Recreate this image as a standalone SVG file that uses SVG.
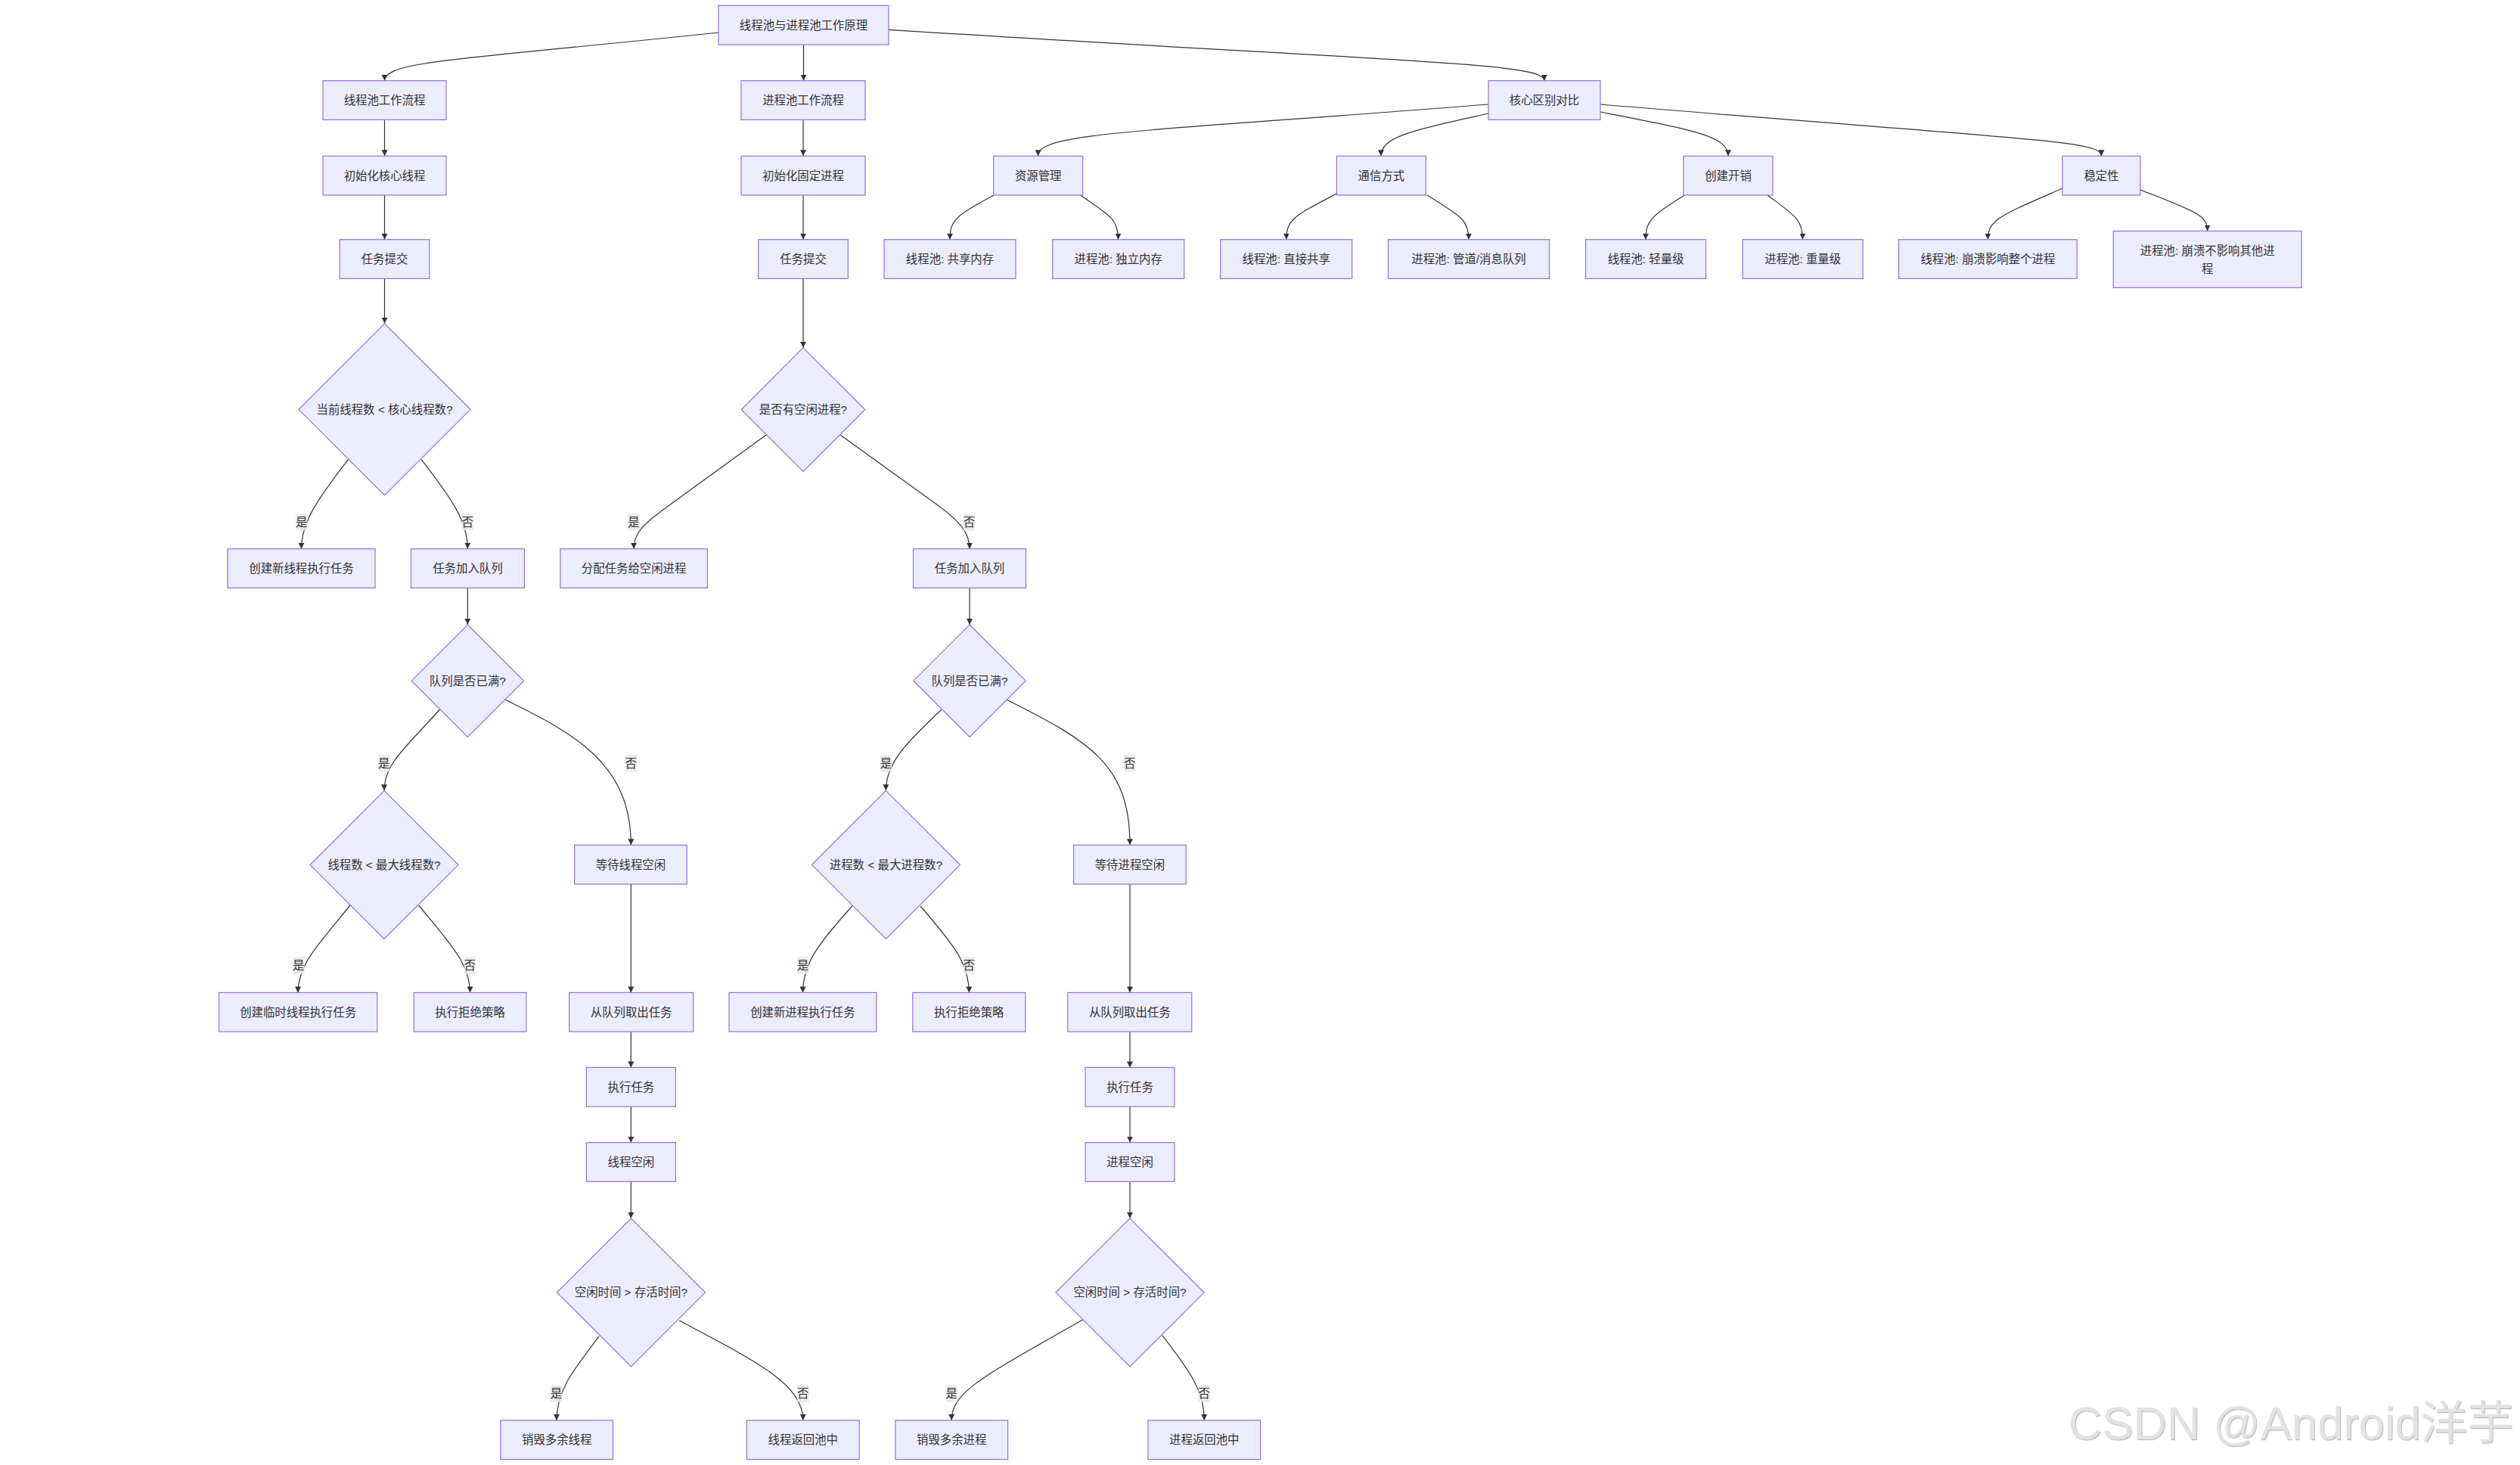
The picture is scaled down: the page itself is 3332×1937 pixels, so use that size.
<svg xmlns="http://www.w3.org/2000/svg" width="3332" height="1937" viewBox="0 0 3332 1937">
<defs>
<style>
.node rect, .node polygon { fill:#ECECFF; stroke:#9370DB; stroke-width:1.2; }
.node text, .elabel text { font-family:"Liberation Sans","Noto Sans CJK SC",sans-serif; font-size:15.4px; fill:#333333; text-anchor:middle; dominant-baseline:central; }
.edge { fill:none; stroke:#333333; stroke-width:1.2; marker-end:url(#arrow); }
.elabel rect { fill:#e8e8e8; opacity:0.85; }
.wm { font-family:"Liberation Sans","Noto Sans CJK SC",sans-serif; font-size:61.5px; fill:#e2e2e2; filter:url(#wmshadow); }
</style>
<marker id="arrow" viewBox="0 0 10 10" refX="10" refY="5" markerWidth="8" markerHeight="8" markerUnits="userSpaceOnUse" orient="auto">
<path d="M0,0 L10,5 L0,10 z" fill="#333333"/>
</marker>
<filter id="wmshadow" x="-5%" y="-20%" width="110%" height="140%">
<feDropShadow dx="1" dy="1.2" stdDeviation="0.6" flood-color="#a8a8a8" flood-opacity="0.8"/>
</filter>
</defs>
<rect width="3332" height="1937" fill="#ffffff"/>

<g id="connectors">
<path class="edge" d="M950,43 C620,78 508.5,80 508.5,106.7"/>
<path class="edge" d="M1062.5,59 L1062.5,106.7"/>
<path class="edge" d="M1175,39.3 C1850,82 2042,82 2042,106.7"/>
<path class="edge" d="M508.5,158.4 L508.5,206.3"/>
<path class="edge" d="M508.5,258 L508.5,316.7"/>
<path class="edge" d="M508.5,368.4 L508.5,427.8"/>
<path class="edge" d="M1062,158.4 L1062,206.3"/>
<path class="edge" d="M1062,258 L1062,316.7"/>
<path class="edge" d="M1062,368.4 L1062,459.7"/>
<path class="edge" d="M1968,138 C1500,175 1372.6,175 1372.6,206.3"/>
<path class="edge" d="M1968,150 C1870,172 1826,180 1826,206.3"/>
<path class="edge" d="M2116,148 C2240,172 2285,180 2285,206.3"/>
<path class="edge" d="M2116,138 C2680,185 2778.5,185 2778.5,206.3"/>
<path class="edge" d="M1314,258 C1265,285 1256,290 1256,316.7"/>
<path class="edge" d="M1428.5,258 C1468,285 1478.5,290 1478.5,316.7"/>
<path class="edge" d="M1767.4,256 C1712,285 1700.8,290 1700.8,316.7"/>
<path class="edge" d="M1887,258 C1930,285 1942,290 1942,316.7"/>
<path class="edge" d="M2227.5,258 C2185,285 2176,290 2176,316.7"/>
<path class="edge" d="M2337,258 C2373,285 2383.5,290 2383.5,316.7"/>
<path class="edge" d="M2727,249 C2645,285 2628.4,290 2628.4,316.7"/>
<path class="edge" d="M2830,251 C2905,280 2918.7,285 2918.7,305.5"/>
<path class="edge" d="M460.5,607.3 C420,660 398.5,690 398.5,725.7"/>
<path class="edge" d="M557,607.3 C598,660 618.3,690 618.3,725.7"/>
<path class="edge" d="M1013,575 L885,668 C850,693 838,705 838,725.7"/>
<path class="edge" d="M1111,575 L1240,668 C1270,690 1282,705 1282,725.7"/>
<path class="edge" d="M618.3,777.4 L618.3,826"/>
<path class="edge" d="M1282,777.4 L1282,826"/>
<path class="edge" d="M581.6,938 C535,990 508,1010 508,1045.3"/>
<path class="edge" d="M667.7,925 C760,970 834.3,1010 834.3,1117.3"/>
<path class="edge" d="M1244.6,938.5 C1195,985 1171.4,1010 1171.4,1045.3"/>
<path class="edge" d="M1331.7,925.5 C1440,980 1494,1010 1494,1117.3"/>
<path class="edge" d="M463,1197 C420,1250 394,1275 394,1312.4"/>
<path class="edge" d="M553.6,1197 C597,1250 621.5,1275 621.5,1312.4"/>
<path class="edge" d="M1126.8,1198 C1080,1250 1061.5,1275 1061.5,1312.4"/>
<path class="edge" d="M1217,1198 C1262,1250 1281.3,1275 1281.3,1312.4"/>
<path class="edge" d="M834.3,1169 L834.3,1312.4"/>
<path class="edge" d="M1494,1169 L1494,1312.4"/>
<path class="edge" d="M834.3,1364.1 L834.3,1411.4"/>
<path class="edge" d="M834.3,1463.1 L834.3,1510.6"/>
<path class="edge" d="M834.3,1562.3 L834.3,1610.8"/>
<path class="edge" d="M1494,1364.1 L1494,1411.4"/>
<path class="edge" d="M1494,1463.1 L1494,1510.6"/>
<path class="edge" d="M1494,1562.3 L1494,1610.8"/>
<path class="edge" d="M792.3,1766.7 C755,1815 736,1840 736,1877.9"/>
<path class="edge" d="M898.2,1746 C1000,1800 1061.8,1830 1061.8,1877.9"/>
<path class="edge" d="M1431.6,1745 C1300,1820 1258.2,1840 1258.2,1877.9"/>
<path class="edge" d="M1536.8,1765.6 C1575,1815 1592.3,1840 1592.3,1877.9"/>
</g>

<g id="edge-labels">
<g class="elabel"><rect x="391" y="679" width="15.4" height="22.4"/><text x="398.7" y="690.2">是</text></g>
<g class="elabel"><rect x="610.6" y="679" width="15.4" height="22.4"/><text x="618.3" y="690.2">否</text></g>
<g class="elabel"><rect x="830.3" y="679" width="15.4" height="22.4"/><text x="838" y="690.2">是</text></g>
<g class="elabel"><rect x="1273.8" y="679" width="15.4" height="22.4"/><text x="1281.5" y="690.2">否</text></g>
<g class="elabel"><rect x="500" y="998" width="15.4" height="22.4"/><text x="507.7" y="1009.2">是</text></g>
<g class="elabel"><rect x="826.5" y="998" width="15.4" height="22.4"/><text x="834.2" y="1009.2">否</text></g>
<g class="elabel"><rect x="1163.7" y="998" width="15.4" height="22.4"/><text x="1171.4" y="1009.2">是</text></g>
<g class="elabel"><rect x="1486.1" y="998" width="15.4" height="22.4"/><text x="1493.8" y="1009.2">否</text></g>
<g class="elabel"><rect x="387.1" y="1265.3" width="15.4" height="22.4"/><text x="394.8" y="1276.5">是</text></g>
<g class="elabel"><rect x="613.6" y="1265.3" width="15.4" height="22.4"/><text x="621.3" y="1276.5">否</text></g>
<g class="elabel"><rect x="1053.9" y="1265.3" width="15.4" height="22.4"/><text x="1061.6" y="1276.5">是</text></g>
<g class="elabel"><rect x="1273.6" y="1265.3" width="15.4" height="22.4"/><text x="1281.3" y="1276.5">否</text></g>
<g class="elabel"><rect x="727.7" y="1831.5" width="15.4" height="22.4"/><text x="735.4" y="1842.7">是</text></g>
<g class="elabel"><rect x="1054.1" y="1831.5" width="15.4" height="22.4"/><text x="1061.8" y="1842.7">否</text></g>
<g class="elabel"><rect x="1250.5" y="1831.5" width="15.4" height="22.4"/><text x="1258.2" y="1842.7">是</text></g>
<g class="elabel"><rect x="1584.6" y="1831.5" width="15.4" height="22.4"/><text x="1592.3" y="1842.7">否</text></g>
</g>

<g id="root" class="node"><rect x="950" y="7.3" width="225" height="51.7"/><text x="1062.5" y="33.2">线程池与进程池工作原理</text></g>
<g id="A1" class="node"><rect x="427" y="106.7" width="163" height="51.7"/><text x="508.5" y="132.6">线程池工作流程</text></g>
<g id="B1" class="node"><rect x="980" y="106.7" width="164" height="51.7"/><text x="1062" y="132.6">进程池工作流程</text></g>
<g id="C" class="node"><rect x="1968" y="106.7" width="148" height="51.7"/><text x="2042" y="132.6">核心区别对比</text></g>
<g id="A2" class="node"><rect x="427" y="206.3" width="163" height="51.7"/><text x="508.5" y="232.2">初始化核心线程</text></g>
<g id="B2" class="node"><rect x="980" y="206.3" width="164" height="51.7"/><text x="1062" y="232.2">初始化固定进程</text></g>
<g id="C1" class="node"><rect x="1313.7" y="206.3" width="118" height="51.7"/><text x="1372.7" y="232.2">资源管理</text></g>
<g id="C2" class="node"><rect x="1767.4" y="206.3" width="118" height="51.7"/><text x="1826.4" y="232.2">通信方式</text></g>
<g id="C3" class="node"><rect x="2226" y="206.3" width="118" height="51.7"/><text x="2285" y="232.2">创建开销</text></g>
<g id="C4" class="node"><rect x="2727" y="206.3" width="103" height="51.7"/><text x="2778.5" y="232.2">稳定性</text></g>
<g id="A3" class="node"><rect x="449.2" y="316.7" width="118.6" height="51.7"/><text x="508.5" y="342.6">任务提交</text></g>
<g id="B3" class="node"><rect x="1002.7" y="316.7" width="118.6" height="51.7"/><text x="1062" y="342.6">任务提交</text></g>
<g id="C1a" class="node"><rect x="1169" y="316.7" width="174" height="51.7"/><text x="1256" y="342.6">线程池: 共享内存</text></g>
<g id="C1b" class="node"><rect x="1391.7" y="316.7" width="174" height="51.7"/><text x="1478.7" y="342.6">进程池: 独立内存</text></g>
<g id="C2a" class="node"><rect x="1613.7" y="316.7" width="174" height="51.7"/><text x="1700.7" y="342.6">线程池: 直接共享</text></g>
<g id="C2b" class="node"><rect x="1835.5" y="316.7" width="213" height="51.7"/><text x="1942" y="342.6">进程池: 管道/消息队列</text></g>
<g id="C3a" class="node"><rect x="2096.6" y="316.7" width="159" height="51.7"/><text x="2176.1" y="342.6">线程池: 轻量级</text></g>
<g id="C3b" class="node"><rect x="2304.2" y="316.7" width="159" height="51.7"/><text x="2383.7" y="342.6">进程池: 重量级</text></g>
<g id="C4a" class="node"><rect x="2510.6" y="316.7" width="235.6" height="51.7"/><text x="2628.4" y="342.6">线程池: 崩溃影响整个进程</text></g>
<g id="C4b" class="node"><rect x="2794.3" y="305.5" width="248.9" height="74.8"/><text x="2918.7" y="331.7">进程池: 崩溃不影响其他进</text><text x="2918.7" y="355">程</text></g>
<g id="D1" class="node"><polygon points="508.5,427.8 622,541.3 508.5,654.8 395,541.3"/><text x="508.5" y="541.3">当前线程数 &lt; 核心线程数?</text></g>
<g id="D2" class="node"><polygon points="1062,459.7 1143.8,541.5 1062,623.3 980.2,541.5"/><text x="1062" y="541.5">是否有空闲进程?</text></g>
<g id="A5" class="node"><rect x="301" y="725.7" width="195" height="51.7"/><text x="398.5" y="751.6">创建新线程执行任务</text></g>
<g id="A6" class="node"><rect x="543.4" y="725.7" width="150" height="51.7"/><text x="618.4" y="751.6">任务加入队列</text></g>
<g id="B5" class="node"><rect x="740.8" y="725.7" width="194.6" height="51.7"/><text x="838.1" y="751.6">分配任务给空闲进程</text></g>
<g id="B6" class="node"><rect x="1207.5" y="725.7" width="149" height="51.7"/><text x="1282" y="751.6">任务加入队列</text></g>
<g id="D3" class="node"><polygon points="618.3,826 692.5,900.2 618.3,974.4 544.1,900.2"/><text x="618.3" y="900.2">队列是否已满?</text></g>
<g id="D4" class="node"><polygon points="1282,826 1356.2,900.2 1282,974.4 1207.8,900.2"/><text x="1282" y="900.2">队列是否已满?</text></g>
<g id="D5" class="node"><polygon points="508,1045.3 606,1143.3 508,1241.3 410,1143.3"/><text x="508" y="1143.3">线程数 &lt; 最大线程数?</text></g>
<g id="A8" class="node"><rect x="759.6" y="1117.3" width="148.6" height="51.7"/><text x="833.9" y="1143.2">等待线程空闲</text></g>
<g id="D6" class="node"><polygon points="1171.4,1045.3 1269.4,1143.3 1171.4,1241.3 1073.4,1143.3"/><text x="1171.4" y="1143.3">进程数 &lt; 最大进程数?</text></g>
<g id="B8" class="node"><rect x="1419.6" y="1117.3" width="148.6" height="51.7"/><text x="1493.9" y="1143.2">等待进程空闲</text></g>
<g id="A9" class="node"><rect x="289.5" y="1312.4" width="209.2" height="51.7"/><text x="394.1" y="1338.3">创建临时线程执行任务</text></g>
<g id="A10" class="node"><rect x="547.2" y="1312.4" width="148.6" height="51.7"/><text x="621.5" y="1338.3">执行拒绝策略</text></g>
<g id="A11" class="node"><rect x="752.6" y="1312.4" width="164" height="51.7"/><text x="834.6" y="1338.3">从队列取出任务</text></g>
<g id="B9" class="node"><rect x="964" y="1312.4" width="194.8" height="51.7"/><text x="1061.4" y="1338.3">创建新进程执行任务</text></g>
<g id="B10" class="node"><rect x="1206.8" y="1312.4" width="149" height="51.7"/><text x="1281.3" y="1338.3">执行拒绝策略</text></g>
<g id="B11" class="node"><rect x="1411.8" y="1312.4" width="164" height="51.7"/><text x="1493.8" y="1338.3">从队列取出任务</text></g>
<g id="A12" class="node"><rect x="775.4" y="1411.4" width="118" height="51.7"/><text x="834.4" y="1437.3">执行任务</text></g>
<g id="B12" class="node"><rect x="1435" y="1411.4" width="118" height="51.7"/><text x="1494" y="1437.3">执行任务</text></g>
<g id="A13" class="node"><rect x="775.4" y="1510.6" width="118" height="51.7"/><text x="834.4" y="1536.5">线程空闲</text></g>
<g id="B13" class="node"><rect x="1435" y="1510.6" width="118" height="51.7"/><text x="1494" y="1536.5">进程空闲</text></g>
<g id="D7" class="node"><polygon points="834.4,1610.8 932.4,1708.8 834.4,1806.8 736.4,1708.8"/><text x="834.4" y="1708.8">空闲时间 &gt; 存活时间?</text></g>
<g id="D8" class="node"><polygon points="1494,1610.8 1592,1708.8 1494,1806.8 1396,1708.8"/><text x="1494" y="1708.8">空闲时间 &gt; 存活时间?</text></g>
<g id="A14" class="node"><rect x="661.8" y="1877.9" width="148.7" height="51.7"/><text x="736.2" y="1903.8">销毁多余线程</text></g>
<g id="A15" class="node"><rect x="987.4" y="1877.9" width="148.7" height="51.7"/><text x="1061.8" y="1903.8">线程返回池中</text></g>
<g id="B14" class="node"><rect x="1183.9" y="1877.9" width="148.7" height="51.7"/><text x="1258.2" y="1903.8">销毁多余进程</text></g>
<g id="B15" class="node"><rect x="1517.9" y="1877.9" width="148.7" height="51.7"/><text x="1592.3" y="1903.8">进程返回池中</text></g>

<text class="wm" x="2735" y="1903">CSDN @Android洋芋</text>
</svg>
